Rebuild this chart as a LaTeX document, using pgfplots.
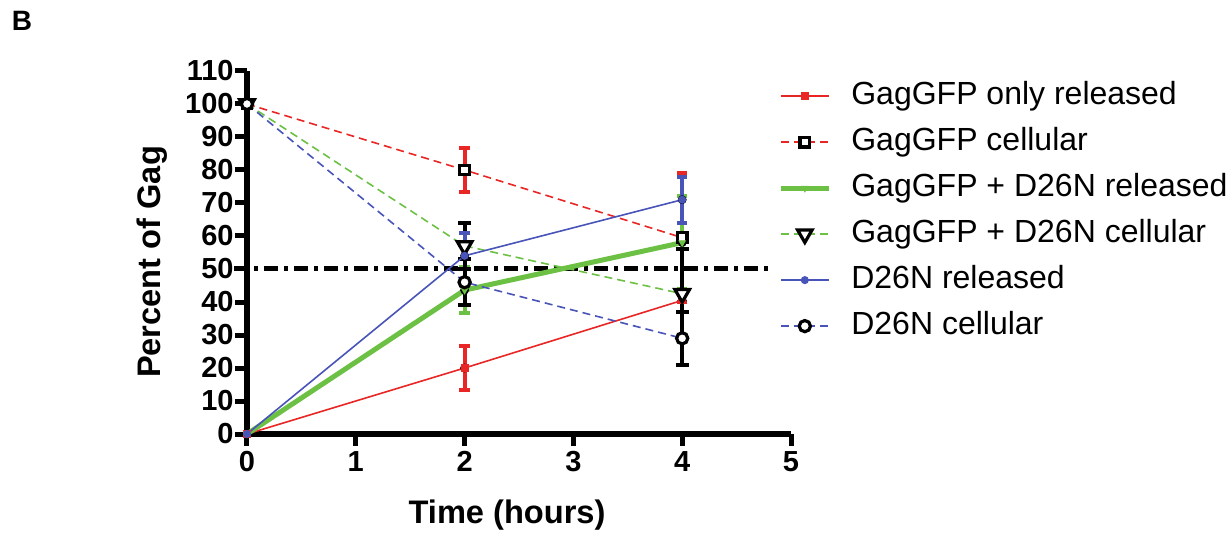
\documentclass[border=0pt]{standalone}
\usepackage{fontspec}
\setmainfont{Liberation Sans}
\usepackage{pgfplots}
\pgfplotsset{compat=1.18}
\definecolor{cred}{RGB}{232,38,38}
\definecolor{cgreen}{RGB}{108,192,68}
\definecolor{cblue}{RGB}{72,84,184}
\begin{document}
\begin{tikzpicture}
\useasboundingbox (-123.5pt,-50.5pt) rectangle (491pt,217pt);
\begin{axis}[
  at={(0,0)}, anchor=south west,
  scale only axis, width=272pt, height=181.5pt,
  xmin=0, xmax=5, ymin=0, ymax=110,
  clip=false,
  axis lines*=left,
  axis line style={line width=3pt, -},
  xtick={0,1,2,3,4,5}, ytick={0,10,...,110},
  tick align=outside, major tick length=6pt,
  tick style={black, line width=2.5pt},
  /pgf/number format/assume math mode=true,
  tick label style={font=\bfseries\fontsize{14.5}{16}\selectfont},
  yticklabel style={inner sep=0.5pt},
  xticklabel style={inner sep=2.5pt},
  xlabel={Time (hours)}, ylabel={Percent of Gag},
  label style={font=\bfseries\fontsize{16.3}{18}\selectfont},
  xlabel style={at={(axis description cs:0.478,-0.223)}, anchor=center},
  ylabel style={at={(axis description cs:-0.175,0.474)}, anchor=center},
  legend cell align=left,
  legend style={draw=none, fill=none, font=\fontsize{16}{19}\selectfont,
    at={(axis description cs:0.976,0.614)}, anchor=west,
    row sep=8pt, column sep=10pt, inner sep=0pt,
    nodes={inner sep=0pt, text height=11.5pt, text depth=3.5pt}},
  legend image code/.code={\draw[mark repeat=2,mark phase=2,#1] plot coordinates {(0pt,0pt) (12pt,0pt) (24pt,0pt)};},
]
% reference line at 50
\addplot[forget plot, black, line width=2.5pt, dash pattern=on 7pt off 3pt on 2pt off 3pt] coordinates {(-0.12,50) (4.79,50)};

% error bars (x = 2, 4)
\addplot[forget plot, only marks, mark=none, error bars/.cd, y dir=both, y explicit,
  error bar style={line width=2pt, cred, solid}, error mark options={rotate=90, line width=2pt, mark size=2.6pt, cred}]
  coordinates {(2,20)+-(0,6.6) (4,40.5)+-(0,19.5)};
\addplot[forget plot, only marks, mark=none, error bars/.cd, y dir=both, y explicit,
  error bar style={line width=2pt, cred, solid}, error mark options={rotate=90, line width=2pt, mark size=2.6pt, cred}]
  coordinates {(2,80)+-(0,6.7) (4,59.5)+-(0,19.5)};
\addplot[forget plot, only marks, mark=none, error bars/.cd, y dir=both, y explicit,
  error bar style={line width=2pt, cgreen, solid}, error mark options={rotate=90, line width=2pt, mark size=2.6pt, cgreen}]
  coordinates {(2,43.6)+-(0,7) (4,58)+-(0,14)};
\addplot[forget plot, only marks, mark=none, error bars/.cd, y dir=both, y explicit,
  error bar style={line width=2pt, black, solid}, error mark options={rotate=90, line width=2pt, mark size=3.2pt, black}]
  coordinates {(2,57)+-(0,7) (4,42.5)+-(0,13.5)};
\addplot[forget plot, only marks, mark=none, error bars/.cd, y dir=both, y explicit,
  error bar style={line width=2pt, cblue, solid}, error mark options={rotate=90, line width=2pt, mark size=2.6pt, cblue}]
  coordinates {(2,54)+-(0,7) (4,71)+-(0,7)};
\addplot[forget plot, only marks, mark=none, error bars/.cd, y dir=both, y explicit,
  error bar style={line width=2pt, black, solid}, error mark options={rotate=90, line width=2pt, mark size=3.2pt, black}]
  coordinates {(2,46)+-(0,7) (4,29)+-(0,8)};

% series
\addplot[cred, line width=0.8pt, mark=square*, mark size=1.6pt, mark options={solid, fill=cred, draw=cred}]
  coordinates {(0,0) (2,20) (4,40.5)};
\addlegendentry{GagGFP only released}
\addplot[cred, line width=0.8pt, dash pattern=on 4pt off 2.5pt, mark=square*, mark size=2.4pt, mark options={solid, draw=black, fill=white, line width=1.6pt}]
  coordinates {(0,100) (2,80) (4,59.5)};
\addlegendentry{GagGFP cellular}
\addplot[cgreen, line width=2.5pt, mark=triangle*, mark size=1.8pt, mark options={solid, rotate=180, fill=cgreen, draw=cgreen, line width=0.5pt}]
  coordinates {(0,0) (2,43.6) (4,58)};
\addlegendentry{GagGFP + D26N released}
\addplot[cgreen, line width=0.8pt, dash pattern=on 4pt off 2.5pt, mark=triangle*, mark size=4.2pt, mark options={solid, rotate=180, draw=black, fill=white, line width=1.6pt}]
  coordinates {(0,100) (2,57) (4,42.5)};
\addlegendentry{GagGFP + D26N cellular}
\addplot[cblue, line width=0.8pt, mark=*, mark size=1.6pt, mark options={solid, fill=cblue, draw=cblue}]
  coordinates {(0,0) (2,54) (4,71)};
\addlegendentry{D26N released}
\addplot[cblue, line width=0.8pt, dash pattern=on 4pt off 2.5pt, mark=*, mark size=2.8pt, mark options={solid, draw=black, fill=white, line width=1.6pt}]
  coordinates {(0,100) (2,46) (4,29)};
\addlegendentry{D26N cellular}
\end{axis}
\node[font=\bfseries\fontsize{14}{16}\selectfont] at (-112.5pt,206.5pt) {B};
\end{tikzpicture}
\end{document}
